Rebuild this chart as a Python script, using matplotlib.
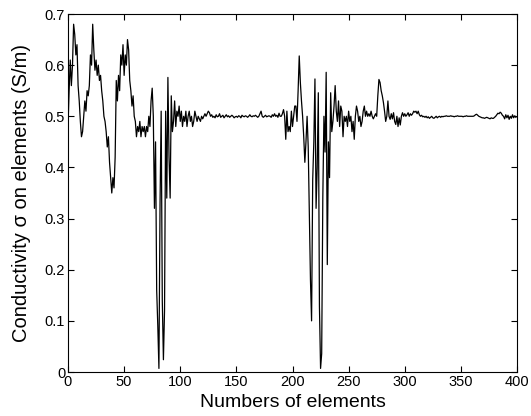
import numpy as np
import matplotlib
matplotlib.use("Agg")
import matplotlib.pyplot as plt

plt.rcParams["font.family"] = ["Liberation Sans", "DejaVu Sans"]

# conductivity, one value per element (10 per row)
sigma_0_99 = [
    0.48, 0.55, 0.61, 0.56, 0.60, 0.68, 0.66, 0.62, 0.64, 0.56,
    0.53, 0.49, 0.46, 0.47, 0.50, 0.53, 0.51, 0.55, 0.54, 0.56,
    0.62, 0.60, 0.68, 0.63, 0.59, 0.61, 0.58, 0.60, 0.57, 0.58,
    0.55, 0.53, 0.50, 0.49, 0.47, 0.44, 0.46, 0.41, 0.38, 0.35,
    0.38, 0.36, 0.42, 0.57, 0.53, 0.58, 0.55, 0.62, 0.60, 0.64,
    0.58, 0.62, 0.60, 0.65, 0.63, 0.57, 0.55, 0.52, 0.54, 0.50,
    0.49, 0.46, 0.48, 0.47, 0.49, 0.46, 0.48, 0.47, 0.48, 0.46,
    0.48, 0.47, 0.50, 0.48, 0.53, 0.555, 0.50, 0.32, 0.45, 0.16,
    0.09, 0.007, 0.33, 0.51, 0.14, 0.024, 0.12, 0.51, 0.34, 0.576,
    0.42, 0.34, 0.54, 0.47, 0.49, 0.53, 0.48, 0.51, 0.50, 0.52,
]
sigma_100_199 = [
    0.49, 0.51, 0.48, 0.50, 0.49, 0.51, 0.48, 0.50, 0.51, 0.49,
    0.50, 0.48, 0.49, 0.51, 0.50, 0.49, 0.50, 0.495, 0.49, 0.50,
    0.495, 0.50, 0.505, 0.50, 0.505, 0.51, 0.507, 0.50, 0.503, 0.498,
    0.50, 0.497, 0.503, 0.499, 0.50, 0.505, 0.498, 0.50, 0.502, 0.497,
    0.50, 0.503, 0.499, 0.501, 0.498, 0.50, 0.502, 0.50, 0.497, 0.499,
    0.50, 0.498, 0.501, 0.50, 0.497, 0.502, 0.50, 0.499, 0.501, 0.50,
    0.498, 0.50, 0.503, 0.50, 0.499, 0.501, 0.50, 0.502, 0.50, 0.498,
    0.50, 0.505, 0.51, 0.50, 0.498, 0.50, 0.502, 0.499, 0.50, 0.501,
    0.50, 0.498, 0.503, 0.50, 0.505, 0.50, 0.502, 0.498, 0.506, 0.50,
    0.50, 0.505, 0.513, 0.50, 0.455, 0.51, 0.47, 0.48, 0.47, 0.51,
]
sigma_200_299 = [
    0.48, 0.50, 0.52, 0.52, 0.49, 0.55, 0.618, 0.566, 0.53, 0.50,
    0.46, 0.41, 0.45, 0.50, 0.44, 0.31, 0.18, 0.10, 0.376, 0.45,
    0.573, 0.32, 0.40, 0.546, 0.128, 0.007, 0.036, 0.34, 0.50, 0.43,
    0.586, 0.21, 0.45, 0.38, 0.546, 0.47, 0.49, 0.52, 0.56, 0.51,
    0.49, 0.53, 0.48, 0.52, 0.51, 0.46, 0.50, 0.49, 0.50, 0.48,
    0.51, 0.49, 0.50, 0.47, 0.49, 0.455, 0.50, 0.52, 0.51, 0.49,
    0.50, 0.48, 0.49, 0.51, 0.52, 0.50, 0.51, 0.50, 0.505, 0.50,
    0.51, 0.50, 0.495, 0.50, 0.505, 0.50, 0.54, 0.572, 0.566, 0.55,
    0.54, 0.527, 0.51, 0.49, 0.50, 0.53, 0.50, 0.494, 0.505, 0.495,
    0.507, 0.49, 0.484, 0.50, 0.48, 0.497, 0.483, 0.50, 0.507, 0.50,
]
sigma_300_399 = [
    0.505, 0.50, 0.503, 0.507, 0.50, 0.505, 0.502, 0.505, 0.51, 0.508,
    0.51, 0.505, 0.51, 0.503, 0.50, 0.502, 0.499, 0.50, 0.498, 0.50,
    0.497, 0.499, 0.496, 0.498, 0.50, 0.497, 0.496, 0.498, 0.50, 0.497,
    0.499, 0.50, 0.498, 0.50, 0.499, 0.50, 0.50, 0.501, 0.50, 0.50,
    0.50, 0.501, 0.50, 0.50, 0.499, 0.50, 0.50, 0.501, 0.50, 0.50,
    0.50, 0.50, 0.499, 0.50, 0.50, 0.501, 0.50, 0.50, 0.50, 0.50,
    0.50, 0.50, 0.501, 0.503, 0.504, 0.502, 0.50, 0.499, 0.498, 0.497,
    0.497, 0.496, 0.497, 0.498, 0.497, 0.496, 0.495, 0.497, 0.496, 0.496,
    0.498, 0.50, 0.503, 0.506, 0.505, 0.508, 0.506, 0.502, 0.50, 0.495,
    0.503, 0.497, 0.502, 0.494, 0.50, 0.496, 0.503, 0.497, 0.501, 0.498,
]

sigma = np.array(sigma_0_99 + sigma_100_199 + sigma_200_299 + sigma_300_399)
elements = np.arange(len(sigma))

x_ticks = [0, 50, 100, 150, 200, 250, 300, 350, 400]
y_ticks = [0, 0.1, 0.2, 0.3, 0.4, 0.5, 0.6, 0.7]

fig = plt.figure(figsize=(5.31, 4.16), dpi=100)
ax = fig.add_axes([68 / 531, 1 - 372 / 416, 449 / 531, 358 / 416])

ax.plot(elements, sigma, color="black", linewidth=0.9)

ax.set_xlim(0, 400)
ax.set_ylim(0, 0.7)
ax.set_xticks(x_ticks)
ax.set_yticks(y_ticks)
ax.set_yticklabels(["0" if t == 0 else f"{t:.1f}" for t in y_ticks])
ax.tick_params(direction="in", top=True, right=True, labelsize=10.5,
               length=4, width=0.8, pad=2)
for s in ax.spines.values():
    s.set_linewidth(0.8)

ax.set_xlabel("Numbers of elements", fontsize=14, labelpad=4)
ax.set_ylabel("Conductivity σ on elements (S/m)", fontsize=14.5, labelpad=10)

fig.savefig("out.png", dpi=100)
